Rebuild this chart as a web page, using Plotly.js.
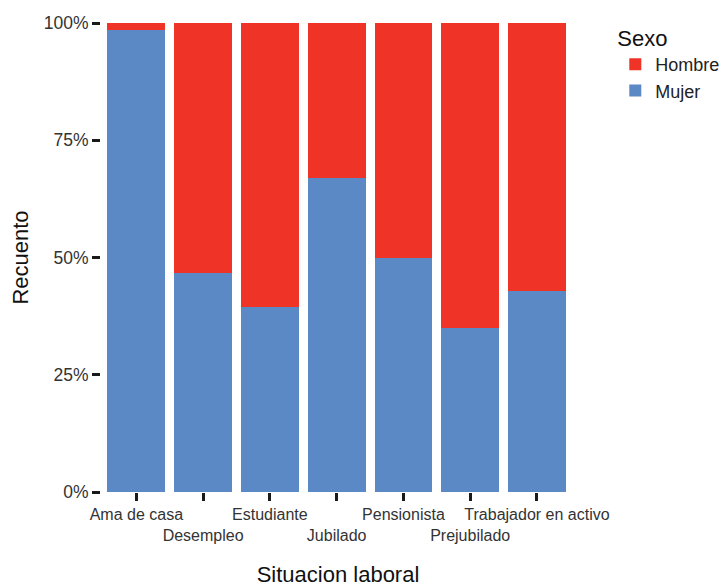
<!DOCTYPE html>
<html>
<head>
<meta charset="utf-8">
<script src="https://cdn.plot.ly/plotly-3.0.1.min.js"></script>
<style>html,body{margin:0;padding:0;background:#fff;}#chart{width:722px;height:587px;}</style>
</head>
<body>
<div id="chart"></div>
<script>
const categories = ["Ama de casa", "Desempleo", "Estudiante", "Jubilado", "Pensionista", "Prejubilado", "Trabajador en activo"];
const mujerPct = [98.5, 46.7, 39.4, 67.0, 49.9, 35.0, 42.9];
const hombrePct = [1.5, 53.3, 60.6, 33.0, 50.1, 65.0, 57.1];
const yTickVals = [0, 25, 50, 75, 100];
const yTickText = ["0%", "25%", "50%", "75%", "100%"];

// alternate tick labels onto two rows (dodged axis labels)
const xTickText = categories.map((c, i) => i % 2 === 1 ? "<br>" + c : c);

const FONT = "Liberation Sans, Arial, Helvetica, sans-serif";

const traces = [
  {
    type: "bar", name: "Mujer", x: categories, y: mujerPct,
    marker: {color: "#5B89C6", line: {width: 0}},
    hoverinfo: "x+y+name"
  },
  {
    type: "bar", name: "Hombre", x: categories, y: hombrePct,
    marker: {color: "#EF3326", line: {width: 0}},
    hoverinfo: "x+y+name"
  }
];

const layout = {
  width: 722, height: 587,
  margin: {l: 101, r: 147, t: 23, b: 95, pad: 0, autoexpand: false},
  paper_bgcolor: "#ffffff", plot_bgcolor: "#ffffff",
  font: {family: FONT, color: "#222"},
  barmode: "stack",
  bargap: 0.134,
  showlegend: true,
  legend: {
    x: 1.085, xanchor: "left", y: 1.012, yanchor: "top",
    traceorder: "reversed",
    title: {text: "Sexo", font: {size: 22, color: "#111", family: FONT}},
    font: {size: 18, color: "#222", family: FONT},
    bgcolor: "rgba(0,0,0,0)", borderwidth: 0
  },
  xaxis: {
    type: "category",
    range: [-0.53, 6.57],
    tickmode: "array", tickvals: categories, ticktext: xTickText,
    tickangle: 0,
    ticks: "outside", ticklen: 8, tickwidth: 3, tickcolor: "#1a1a1a",
    tickfont: {size: 16, color: "#333", family: FONT},
    showline: false, showgrid: false, zeroline: false,
    automargin: false,
    title: {text: "Situacion laboral", font: {size: 22, color: "#111", family: FONT}, standoff: 30}
  },
  yaxis: {
    range: [0, 100],
    tickmode: "array", tickvals: yTickVals, ticktext: yTickText,
    ticks: "outside", ticklen: 8, tickwidth: 3, tickcolor: "#1a1a1a",
    tickfont: {size: 17.5, color: "#333", family: FONT},
    showline: false, showgrid: false, zeroline: false,
    automargin: false,
    title: {text: "Recuento", font: {size: 22, color: "#111", family: FONT}, standoff: 9}
  }
};

Plotly.newPlot("chart", traces, layout, {displayModeBar: false, staticPlot: true});
</script>
</body>
</html>
